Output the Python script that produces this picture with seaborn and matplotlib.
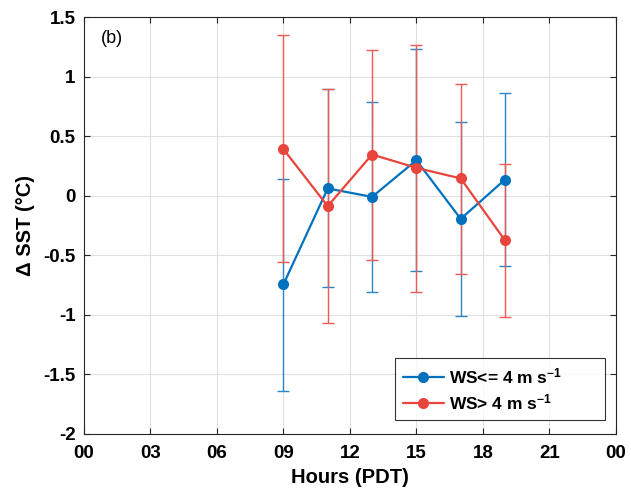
import numpy as np
import pandas as pd
import matplotlib
matplotlib.use("Agg")
import matplotlib.pyplot as plt
import seaborn as sns

hours = [9, 11, 13, 15, 17, 19]
low_ws_mean = [-0.744, 0.062, -0.009, 0.299, -0.194, 0.137]
low_ws_upper = [0.142, 0.898, 0.786, 1.229, 0.616, 0.862]
low_ws_lower = [-1.638, -0.769, -0.805, -0.635, -1.008, -0.591]
high_ws_mean = [0.392, -0.087, 0.347, 0.235, 0.146, -0.375]
high_ws_upper = [1.349, 0.895, 1.225, 1.265, 0.937, 0.268]
high_ws_lower = [-0.560, -1.067, -0.538, -0.805, -0.655, -1.020]
xtick_vals = [0, 3, 6, 9, 12, 15, 18, 21, 24]
xtick_labels = ["00", "03", "06", "09", "12", "15", "18", "21", "00"]
ytick_vals = [-2, -1.5, -1, -0.5, 0, 0.5, 1, 1.5]
ytick_labels = ["-2", "-1.5", "-1", "-0.5", "0", "0.5", "1", "1.5"]
labels = ["WS<= 4 m s$^{-1}$", "WS> 4 m s$^{-1}$"]

blue = "#0072BD"
red = "#E8453C"

sns.set_theme(style="white")
plt.rcParams["font.family"] = ["Liberation Sans", "DejaVu Sans"]
plt.rcParams["mathtext.fontset"] = "custom"
plt.rcParams["mathtext.rm"] = "Liberation Sans:bold"
plt.rcParams["mathtext.it"] = "Liberation Sans:bold"
plt.rcParams["mathtext.bf"] = "Liberation Sans:bold"
plt.rcParams["text.color"] = "black"
plt.rcParams["axes.labelcolor"] = "black"
plt.rcParams["xtick.color"] = "black"
plt.rcParams["ytick.color"] = "black"

fig = plt.figure(figsize=(6.31, 4.92), dpi=100)
ax = fig.add_axes([0.133, 0.118, 0.843, 0.847])

df = pd.DataFrame({
    "hour": hours * 2,
    "dsst": low_ws_mean + high_ws_mean,
    "group": [labels[0]] * len(hours) + [labels[1]] * len(hours),
})

for mean, up, lo, c in [(low_ws_mean, low_ws_upper, low_ws_lower, "#2a86c8"),
                        (high_ws_mean, high_ws_upper, high_ws_lower, "#ec5a52")]:
    m = np.array(mean)
    yerr = np.vstack([m - np.array(lo), np.array(up) - m])
    ax.errorbar(hours, m, yerr=yerr, fmt="none", ecolor=c, elinewidth=1.0,
                capsize=4.3, capthick=1.0, zorder=2)

sns.lineplot(data=df, x="hour", y="dsst", hue="group", palette=[blue, red],
             marker="o", markersize=8, markeredgewidth=0, linewidth=1.6,
             ax=ax, zorder=3)

ax.set_xlim(0, 24)
ax.set_ylim(-2, 1.5)
ax.set_xticks(xtick_vals)
ax.set_xticklabels(xtick_labels)
ax.set_yticks(ytick_vals)
ax.set_yticklabels(ytick_labels)
ax.grid(True, color="#e0e0e0", linewidth=0.8)
ax.set_axisbelow(True)
for s in ax.spines.values():
    s.set_color("#262626")
    s.set_linewidth(0.8)
ax.tick_params(direction="in", length=4, width=0.8, color="#262626",
               top=True, right=True, bottom=True, left=True,
               labelsize=13.5)
ax.tick_params(axis="x", pad=8)
ax.tick_params(axis="y", pad=6)
for lab in ax.get_xticklabels() + ax.get_yticklabels():
    lab.set_fontweight("bold")

ax.set_xlabel("Hours (PDT)", fontsize=14.5, fontweight="bold", labelpad=4)
ax.set_ylabel("Δ SST (°C)", fontsize=14.5, fontweight="bold", labelpad=6)
ax.text(1.26, 1.32, "(b)", fontsize=13, ha="center", va="center")

leg = ax.legend(loc="lower left", bbox_to_anchor=(0.585, 0.034, 0.394, 0.136),
                mode="expand", frameon=True,
                fancybox=False, edgecolor="black", fontsize=12.5,
                handlelength=2.35, borderpad=0.45, labelspacing=0.35,
                handletextpad=0.3, borderaxespad=0)
leg.get_frame().set_linewidth(0.8)
for t in leg.get_texts():
    t.set_fontweight("bold")

fig.savefig("out.png", dpi=100)
